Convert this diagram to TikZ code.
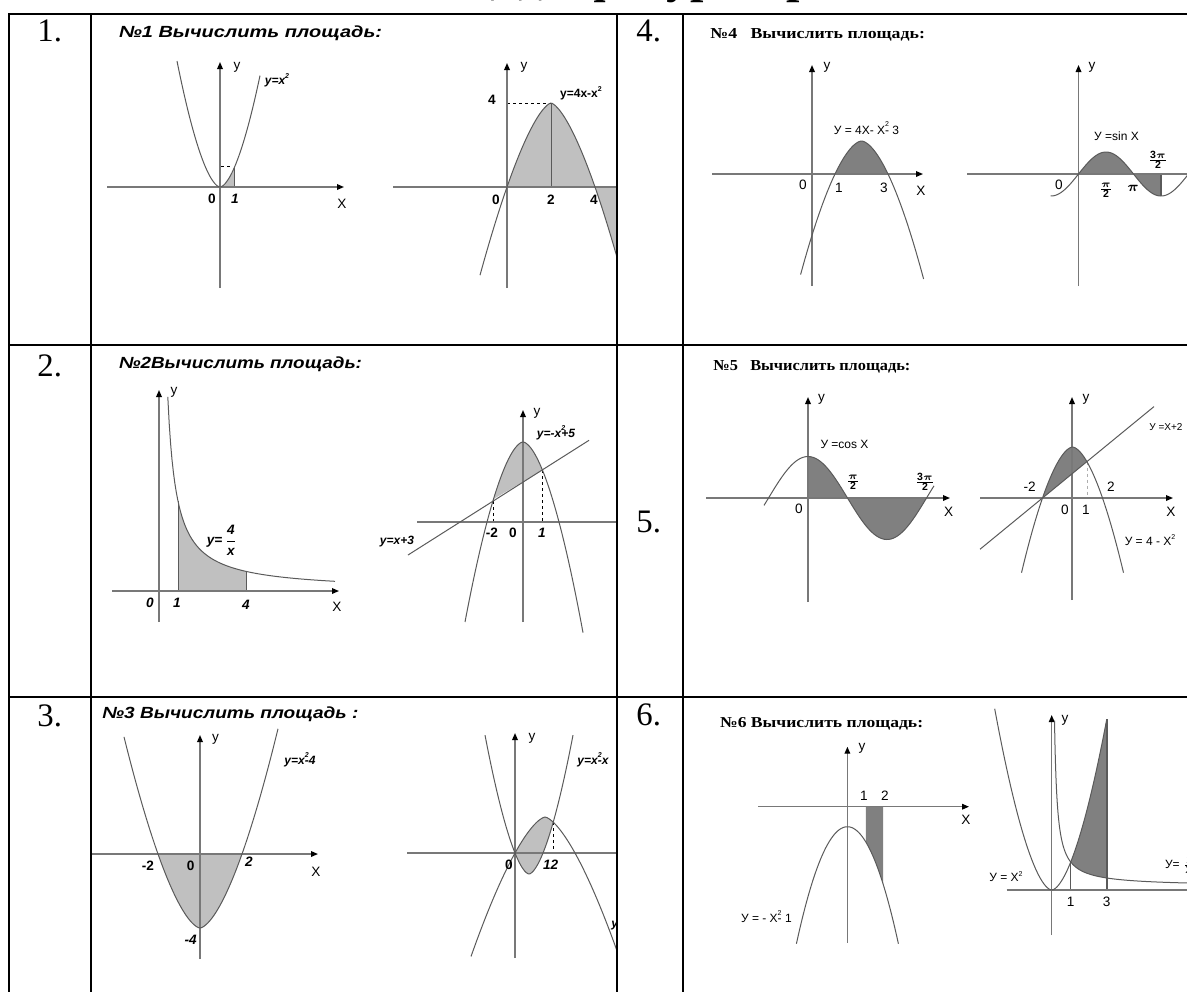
\documentclass[tikz,border=0pt]{standalone}
\usepackage{fontspec}
\usepackage{amsmath}
\usepackage{graphicx}
\setmainfont{Liberation Serif}
\setsansfont{Liberation Sans}
\usetikzlibrary{arrows.meta,positioning,calc}
\definecolor{GrisEje}{RGB}{120,120,120}
\definecolor{GrisCurva}{RGB}{90,90,90}
\definecolor{SombraClara}{RGB}{192,192,192}
\definecolor{SombraOscura}{RGB}{128,128,128}
\newcommand{\cuad}{\rlap{\raisebox{1.15ex}{\fontsize{3.5}{4}\selectfont 2}}}
\newcommand{\cuadr}{\raisebox{0.9ex}{\fontsize{3.5}{4}\selectfont 2}}
\tikzset{
  declare function={pw(\u,\p)=(abs(\u)+0.0001)^(\p);},
  rejilla/.style={line width=1pt, black},
  eje/.style={draw=GrisEje, line width=0.7pt, -{Triangle[length=3.5pt, width=2.8pt, color=black]}},
  ejesin/.style={draw=GrisEje, line width=0.7pt},
  curva/.style={draw=GrisCurva, line width=0.5pt},
  clara/.style={fill=SombraClara},
  oscura/.style={fill=SombraOscura},
  guia/.style={black, line width=0.4pt, dash pattern=on 1.5pt off 1.5pt},
  guiaclara/.style={GrisEje!60, line width=0.4pt, dash pattern=on 1.5pt off 1.5pt},
  numcelda/.style={font=\fontsize{16.4}{18}\selectfont, inner sep=0pt, anchor=base west},
  cabecera/.style={font=\bfseries\fontsize{24}{26}\selectfont, inner sep=0pt},
  titulo/.style={font=\sffamily\bfseries\itshape, inner sep=0pt, anchor=base west},
  tituloserif/.style={font=\bfseries, inner sep=0pt, anchor=base west},
  ejeletra/.style={font=\sffamily\fontsize{6.8}{7}\selectfont, inner sep=0pt},
  marca/.style={font=\sffamily\bfseries\fontsize{6.8}{7}\selectfont, inner sep=0pt},
  marcait/.style={font=\sffamily\bfseries\itshape\fontsize{6.8}{7}\selectfont, inner sep=0pt},
  formula/.style={font=\sffamily\bfseries\itshape\fontsize{6}{7}\selectfont, inner sep=0pt},
  formulab/.style={font=\sffamily\bfseries\fontsize{6}{7}\selectfont, inner sep=0pt},
  numrd/.style={font=\sffamily\fontsize{6.8}{7}\selectfont, inner sep=0pt},
  formulard/.style={font=\sffamily\fontsize{6}{7}\selectfont, inner sep=0pt},
  fraccion/.style={font=\sffamily\bfseries\fontsize{7.5}{8}\selectfont, inner sep=0pt},
}

\begin{document}
\begin{tikzpicture}[x=0.5pt, y=-0.5pt]
  \useasboundingbox (0,0) rectangle (1187,992);

  % cabecera cortada arriba
  \node[cabecera, anchor=base west] (cab2) at (583,-8) {фигур, ограниченных линиями};
  \node[cabecera, anchor=base east] (cab1) at ([xshift=-6pt]cab2.base west) {Вычислите площади};

  % numeros de las celdas
  \node[numcelda] (n1) at (37,41.7) {1.};
  \node[numcelda] (n2) at (37,376) {2.};
  \node[numcelda] (n3) at (37,726) {3.};
  \node[numcelda] (n4) at (636,41.7) {4.};
  \node[numcelda] (n5) at (636,532.7) {5.};
  \node[numcelda] (n6) at (636,725) {6.};

  % titulos
  \node[titulo] (t1) at (118.6,37.7) {\resizebox{131.5pt}{5.85pt}{№1 Вычислить площадь:}};
  \node[titulo] (t2) at (118.6,368.3) {\resizebox{121.5pt}{5.85pt}{№2Вычислить площадь:}};
  \node[titulo] (t3) at (102,718.3) {\resizebox{128pt}{5.85pt}{№3 Вычислить площадь :}};
  \node[tituloserif] (t4) at (710,38.3) {\resizebox{107.3pt}{5pt}{№4~~ Вычислить площадь:}};
  \node[tituloserif] (t5) at (713,370) {\resizebox{98.5pt}{5pt}{№5~~ Вычислить площадь:}};
  \node[tituloserif] (t6) at (719.7,727.3) {\resizebox{101.5pt}{5pt}{№6 Вычислить площадь:}};

  % ---- columna izquierda ----
  \begin{scope}
    \clip (90,14) rectangle (616,992);

    % 1a: y=x^2
    \begin{scope}[shift={(220,187)}, x=0.5pt, y=0.5pt]
      \fill[clara] (0,0) -- plot[domain=0:14, samples=10] (\x,{121*pw(\x/42,1.7)}) -- (14,0) -- cycle;
      \draw[curva] (14,0) -- (14,{121*pw(14/42,1.7)});
      \draw[guia] (1,21) -- (12,21);
      \draw[eje] (-113,0) -- (124,0);
      \draw[eje] (0,-101) -- (0,125);
      \draw[curva] plot[domain=-43:40, samples=60] (\x,{121*pw(\x/42,1.7)});
      \node[ejeletra] (a1y) at (17,120) {y};
      \node[formula] (a1f) at (57,107) {y=x\cuadr};
      \node[marca] (a1o) at (-8,-12) {0};
      \node[marcait] (a1u) at (15,-12) {1};
      \node[ejeletra] (a1x) at (122,-17) {X};
    \end{scope}

    % 1b: y=4x-x^2
    \begin{scope}[shift={(507,187)}, x=0.5pt, y=0.5pt]
      \fill[clara] (0,0) -- plot[domain=0:112, samples=60] (\x,{84*(1-pw((\x-44)/44,1.5))}) -- (112,0) -- cycle;
      \draw[curva] (44,0) -- (44,84);
      \draw[guia] (0,84) -- (44,84);
      \draw[ejesin] (-114,0) -- (112,0);
      \draw[eje] (0,-101) -- (0,124);
      \draw[curva] plot[domain=-27:112, samples=80] (\x,{84*(1-pw((\x-44)/44,1.5))});
      \node[ejeletra] (b1y) at (17,120) {y};
      \node[marca] (b1c) at (-15,87) {4};
      \node[formulab] (b1f) at (74,94) {y=4x-x\cuadr};
      \node[marca] (b1o) at (-11,-13) {0};
      \node[marca] (b1d) at (44,-13) {2};
      \node[marca] (b1q) at (87,-13) {4};
    \end{scope}

    % 2a: y=4/x
    \begin{scope}[shift={(159,591)}, x=0.5pt, y=0.5pt]
      \fill[clara] (19,0) -- plot[domain=19:87, samples=40] (\x,{1708/\x}) -- (87,0) -- cycle;
      \draw[curva] (19,0) -- (19,{1708/19});
      \draw[curva] (87,0) -- (87,{1708/87});
      \draw[eje] (-47,0) -- (180,0);
      \draw[eje] (0,-31) -- (0,201);
      \draw[curva] plot[domain=8.8:176, samples=120] (\x,{1708/\x});
      \node[ejeletra] (a2y) at (15,199) {y};
      \node[ejeletra] (a2x) at (178,-16) {X};
      \node[marcait] (a2o) at (-9,-12) {0};
      \node[marcait] (a2u) at (18,-12) {1};
      \node[marcait] (a2q) at (87,-14) {4};
      \node[marcait] (a2f) at (63,51) {y=\,$\dfrac{\text{4}}{\text{x}}$};
    \end{scope}

    % 2b: y=-x^2+5, y=x+3
    \begin{scope}[shift={(523,522)}, x=0.5pt, y=0.5pt]
      \fill[clara] plot[domain=-29.5:19.5, samples=40] (\x,{80*(1-pw(\x/36,1.7))}) -- cycle;
      \draw[guia] (-29.5,21.2) -- (-29.5,0);
      \draw[guia] (19.5,52) -- (19.5,0);
      \draw[ejesin] (-106,0) -- (95,0);
      \draw[eje] (0,-100) -- (0,112);
      \draw[curva] plot[domain=-58:60, samples=80] (\x,{80*(1-pw(\x/36,1.7))});
      \draw[curva] (-115,-33) -- (66,81.7);
      \node[ejeletra] (b2y) at (14,109) {y};
      \node[formula] (b2f) at (33,89) {y=-x\cuad+5};
      \node[formula] (b2r) at (-126,-20) {y=x+3};
      \node[marca] (b2m) at (-31,-11) {-2};
      \node[marca] (b2o) at (-10,-11) {0};
      \node[marcait] (b2u) at (19,-11) {1};
    \end{scope}

    % 3a: y=x^2-4
    \begin{scope}[shift={(200,854)}, x=0.5pt, y=0.5pt]
      \fill[clara] plot[domain=-42:42, samples=50] (\x,{74*pw(\x/42,1.6)-74}) -- cycle;
      \draw[eje] (-108,0) -- (118,0);
      \draw[eje] (0,-105) -- (0,119);
      \draw[curva] plot[domain=-76:78, samples=80] (\x,{74*pw(\x/42,1.6)-74});
      \node[ejeletra] (a3y) at (15.5,115) {y};
      \node[formula] (a3f) at (100,94) {y=x\cuad-4};
      \node[marca] (a3m) at (-52,-12) {-2};
      \node[marca] (a3o) at (-9.4,-12) {0};
      \node[marcait] (a3d) at (49,-8) {2};
      \node[ejeletra] (a3x) at (116,-18) {X};
      \node[marcait] (a3c) at (-9.4,-86) {-4};
    \end{scope}

    % 3b: y=x^2-x
    \begin{scope}[shift={(515,853)}, x=0.5pt, y=0.5pt]
      \fill[clara] plot[domain=0:38.2, samples=30] (\x,{36*(1-pw((\x-30)/30,1.5))})
        -- plot[domain=38.2:0, samples=30] (\x,{21*(pw((\x-14)/14,1.65)-1)}) -- cycle;
      \draw[guia] (38.2,30.6) -- (38.2,0);
      \draw[guia] (-1,18) -- (-1,24);
      \draw[ejesin] (-108,0) -- (102,0);
      \draw[eje] (0,-105) -- (0,120);
      \draw[curva] plot[domain=-30:58, samples=70] (\x,{21*(pw((\x-14)/14,1.65)-1)});
      \draw[curva] plot[domain=-44:102, samples=80] (\x,{36*(1-pw((\x-30)/30,1.5))});
      \node[ejeletra] (b3y) at (17,115) {y};
      \node[marca] (b3o) at (-6,-12) {0};
      \node[marcait] (b3u) at (32,-12) {1};
      \node[marcait] (b3d) at (39.5,-12) {2};
      \node[formula] (b3f) at (78,93) {y=x\cuad-x};
      \node[formula, anchor=west] (b3g) at (96,-70) {y=2x-x\cuadr};
    \end{scope}
  \end{scope}

  % ---- columna derecha ----
  % 4a: y=4x-x^2-3
  \begin{scope}[shift={(812,174)}, x=0.5pt, y=0.5pt]
    \fill[oscura] plot[domain=23:76, samples=40] (\x,{33*(1-pw((\x-49.5)/26.5,1.68))}) -- cycle;
    \draw[eje] (-100,0) -- (111,0);
    \draw[eje] (0,-112) -- (0,109);
    \draw[curva] plot[domain=-11.4:111.6, samples=80] (\x,{33*(1-pw((\x-49.5)/26.5,1.68))});
    \node[ejeletra] (c4y) at (15,107) {y};
    \node[numrd] (c4o) at (-9,-11) {0};
    \node[numrd] (c4u) at (27,-14) {1};
    \node[numrd] (c4t) at (72,-14) {3};
    \node[ejeletra] (c4x) at (109,-17) {X};
    \node[formulard] (c4f) at (54.5,46) {У = 4X- X\cuad- 3};
  \end{scope}

  % 4b: y=sin x
  \begin{scope}[shift={(1078.5,174)}, x=0.5pt, y=0.5pt]
    \fill[oscura] (0,0) -- plot[domain=0:82.5, samples=50] (\x,{22*sin(\x/55*180)}) -- (82.5,0) -- cycle;
    \draw[curva, line width=0.8pt] (82.5,0) -- (82.5,-22);
    \draw[ejesin] (-111.5,0) -- (110,0);
    \draw[eje] (0,-112) -- (0,109);
    \draw[curva] plot[domain=-28:110, samples=80] (\x,{22*sin(\x/55*180)});
    \node[ejeletra] (d4y) at (13.5,107) {y};
    \node[numrd] (d4o) at (-19.5,-11) {0};
    \node[fraccion] (d4a) at (27.5,-16) {$\frac{\boldsymbol{\pi}}{\text{2}}$};
    \node[fraccion] (d4p) at (54.5,-14) {$\boldsymbol{\pi}$};
    \node[fraccion] (d4b) at (79.5,14) {$\frac{\text{3}\boldsymbol{\pi}}{\text{2}}$};
    \node[formulard] (d4f) at (38,38) {У =sin X};
  \end{scope}

  % 5a: y=cos x
  \begin{scope}[shift={(808,498)}, x=0.5pt, y=0.5pt]
    \fill[oscura] (0,0) -- plot[domain=0:118.5, samples=60] (\x,{41.5*cos(\x/39.5*90)}) -- cycle;
    \draw[eje] (-102,0) -- (142,0);
    \draw[eje] (0,-104) -- (0,101);
    \draw[curva] plot[domain=-44:126, samples=80] (\x,{41.5*cos(\x/39.5*90)});
    \node[ejeletra] (c5y) at (13.6,99) {y};
    \node[formulard] (c5f) at (36.5,54) {У =cos X};
    \node[fraccion] (c5a) at (45,16) {$\frac{\boldsymbol{\pi}}{\text{2}}$};
    \node[fraccion] (c5b) at (117,16) {$\frac{\text{3}\boldsymbol{\pi}}{\text{2}}$};
    \node[numrd] (c5o) at (-9,-11) {0};
    \node[ejeletra] (c5x) at (140.6,-14) {X};
  \end{scope}

  % 5b: y=4-x^2, y=x+2
  \begin{scope}[shift={(1072,498)}, x=0.5pt, y=0.5pt]
    \fill[oscura] plot[domain=-29.5:14.9, samples=40] (\x,{51*(1-pw((\x-0.5)/30,1.7))}) -- cycle;
    \draw[guiaclara] (14.9,36.4) -- (14.9,0);
    \draw[eje] (-92,0) -- (101,0);
    \draw[eje] (0,-102) -- (0,101);
    \draw[curva] plot[domain=-50.5:51.5, samples=70] (\x,{51*(1-pw((\x-0.5)/30,1.7))});
    \draw[curva] (-92,{0.82*(-62.5)}) -- (82,{0.82*111.5});
    \node[ejeletra] (d5y) at (14,99) {y};
    \node[numrd] (d5m) at (-42.4,11) {-2};
    \node[numrd] (d5d) at (39,11) {2};
    \node[numrd] (d5o) at (-7,-12) {0};
    \node[numrd] (d5u) at (14,-12) {1};
    \node[ejeletra] (d5x) at (99,-14) {X};
    \node[formulard, font=\sffamily\fontsize{5}{6}\selectfont, anchor=west] (d5r) at (77,71) {У =X+2};
    \node[formulard] (d5f) at (78,-42) {У = 4 - X\cuadr};
  \end{scope}

  % 6a: y=-x^2-1
  \begin{scope}[shift={(847.4,806.7)}, x=0.5pt, y=0.5pt]
    \fill[oscura] (18.4,0) -- plot[domain=18.4:35.7, samples=20] (\x,{-20-0.045*\x*\x}) -- (35.7,0) -- cycle;
    \draw[eje] (-89.4,0) -- (121.6,0);
    \draw[eje] (0,-136) -- (0,60);
    \draw[curva] plot[domain=-51:51, samples=60] (\x,{-20-0.045*\x*\x});
    \node[ejeletra] (c6y) at (14.6,58.7) {y};
    \node[numrd] (c6u) at (16.6,10.7) {1};
    \node[numrd] (c6d) at (37.6,10.7) {2};
    \node[ejeletra] (c6x) at (118.6,-13.3) {X};
    \node[formulard] (c6f) at (-81,-110) {У = - X\cuad- 1};
  \end{scope}

  % 6b: y=x^2 y la hiperbola
  \begin{scope}[shift={(1051.7,890)}, x=0.5pt, y=0.5pt]
    \fill[oscura] plot[domain=19:55, samples=30] (\x,{28*pw(\x/19,1.7)})
      -- plot[domain=55:19, samples=30] (\x,{464/\x+3.6}) -- cycle;
    \draw[curva, line width=0.8pt] (55,0) -- (55,{28*pw(55/19,1.7)});
    \draw[curva, line width=0.3pt] (19,0) -- (19,28);
    \draw[ejesin] (-45,0) -- (136,0);
    \draw[eje] (0,-45) -- (0,175);
    \draw[curva] plot[domain=-57:55, samples=80] (\x,{28*pw(\x/19,1.7)});
    \draw[curva] plot[domain=2.8:20, samples=60] (\x,{464/\x+3.6});
    \draw[curva] plot[domain=20:136, samples=60] (\x,{464/\x+3.6});
    \node[ejeletra] (d6y) at (13.3,170) {y};
    \node[numrd] (d6u) at (19,-11.7) {1};
    \node[numrd] (d6t) at (55,-11.7) {3};
    \node[formulard] (d6f) at (-45.7,13.3) {У = X\cuadr};
    \node[formulard, anchor=west] (d6g) at (113,25) {У= $\frac{\text{1}}{\text{X}}$};
  \end{scope}

  % rejilla de la tabla
  \draw[rejilla] (8,13.5) -- (1187,13.5);
  \draw[rejilla] (8,345) -- (1187,345);
  \draw[rejilla] (8,696.5) -- (1187,696.5);
  \draw[rejilla] (8.5,13) -- (8.5,992);
  \draw[rejilla] (90.5,13) -- (90.5,992);
  \draw[rejilla] (616.5,13) -- (616.5,992);
  \draw[rejilla] (683,13) -- (683,992);
\end{tikzpicture}
\end{document}
